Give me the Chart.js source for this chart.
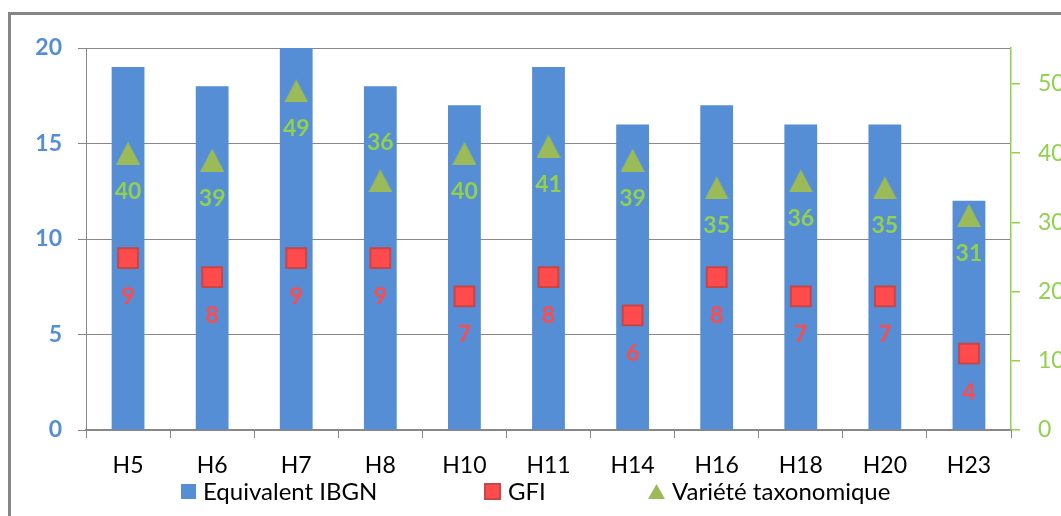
<!DOCTYPE html>
<html>
<head>
<meta charset="utf-8">
<script src="https://cdn.jsdelivr.net/npm/chart.js@4.4.1/dist/chart.umd.min.js"></script>
<style>
  html, body { margin: 0; padding: 0; background: #fff; overflow: hidden; width: 1061px; height: 516px; }
  #frame { position: absolute; left: 8px; top: 12px; width: 1200px; height: 700px;
           border-left: 3px solid #868686; border-top: 3px solid #868686; }
  #wrap { position: absolute; left: 0; top: 0; width: 1100px; height: 516px; }
  #legend { position: absolute; left: 181px; top: 479px; height: 24px; display: flex; align-items: center;
            font-family: Lato, "Open Sans", sans-serif; font-size: 24px; line-height: 24px; color: #000; white-space: nowrap; }
  #legend .item { display: flex; align-items: center; flex-shrink: 0; }
  #legend .item:nth-child(1) { width: 303px; }
  #legend .item:nth-child(2) { width: 164px; }
  #legend .mark { margin-right: 7px; display: block; flex-shrink: 0; }
</style>
</head>
<body>
<div id="frame"></div>
<div id="wrap"><canvas id="c" width="1100" height="516"></canvas></div>
<div id="legend"></div>
<script>
// Stations and measured indices
const stations = ['H5', 'H6', 'H7', 'H8', 'H10', 'H11', 'H14', 'H16', 'H18', 'H20', 'H23'];
const ibgnValues = [19, 18, 20, 18, 17, 19, 16, 17, 16, 16, 12];
const gfiValues = [9, 8, 9, 9, 7, 8, 6, 8, 7, 7, 4];
const varieteValues = [40, 39, 49, 36, 40, 41, 39, 35, 36, 35, 31];
const leftTicks = [0, 5, 10, 15, 20];
const rightTicks = [0, 10, 20, 30, 40, 50];

const BLUE = '#558ED5';
const RED = '#FF4B4B';
const RED_EDGE = '#C84646';
const OLIVE = '#9BBB59';
const GREEN = '#92D050';
const FONT = 'Lato, "Open Sans", sans-serif';

function triangleImage(w, h, color) {
  const c = document.createElement('canvas');
  c.width = w; c.height = h;
  const g = c.getContext('2d');
  g.fillStyle = color;
  g.beginPath();
  g.moveTo(w / 2, 0);
  g.lineTo(w, h);
  g.lineTo(0, h);
  g.closePath();
  g.fill();
  return c;
}
const triangleMarker = triangleImage(24, 23, OLIVE);

// Writes each point's value under (or above) its marker
const valueLabels = {
  id: 'valueLabels',
  afterDatasetsDraw(chart, args, opts) {
    const ctx = chart.ctx;
    opts.sets.forEach(s => {
      const meta = chart.getDatasetMeta(s.index);
      const values = chart.data.datasets[s.index].data;
      ctx.save();
      ctx.font = 'bold 23px ' + FONT;
      ctx.fillStyle = s.color;
      ctx.textAlign = 'center';
      ctx.textBaseline = 'middle';
      meta.data.forEach((pt, i) => {
        const dy = s.above.includes(i) ? -s.offset : s.offset;
        ctx.fillText(String(values[i]), pt.x, pt.y + dy);
      });
      ctx.restore();
    });
  }
};

const chart = new Chart(document.getElementById('c'), {
  data: {
    labels: stations,
    datasets: [
      {
        type: 'bar',
        label: 'Equivalent IBGN',
        data: ibgnValues,
        backgroundColor: BLUE,
        yAxisID: 'y',
        categoryPercentage: 1,
        barPercentage: 0.39,
        order: 3
      },
      {
        type: 'line',
        label: 'GFI',
        data: gfiValues,
        showLine: false,
        pointStyle: 'rect',
        pointRadius: 14,
        pointHoverRadius: 14,
        pointBackgroundColor: RED,
        pointBorderColor: RED_EDGE,
        pointBorderWidth: 2,
        backgroundColor: RED,
        borderColor: RED_EDGE,
        yAxisID: 'y',
        order: 1
      },
      {
        type: 'line',
        label: 'Variété taxonomique',
        data: varieteValues,
        showLine: false,
        pointStyle: triangleMarker,
        pointRadius: 12,
        backgroundColor: OLIVE,
        borderColor: OLIVE,
        yAxisID: 'y2',
        order: 2
      }
    ]
  },
  options: {
    responsive: false,
    animation: false,
    devicePixelRatio: 1,
    layout: { padding: { top: 48, left: 0, right: 0, bottom: 38 } },
    plugins: {
      legend: { display: false },
      tooltip: { enabled: false },
      valueLabels: {
        sets: [
          { index: 1, color: RED, offset: 38.5, above: [] },
          { index: 2, color: GREEN, offset: 38, above: [3] }
        ]
      }
    },
    scales: {
      x: {
        grid: { drawOnChartArea: false, color: '#888', tickLength: 8, offset: true },
        border: { color: '#888', width: 2 },
        ticks: { color: '#000', font: { family: FONT, size: 23 }, padding: 14 },
        afterFit(s) { s.height = 48; }
      },
      y: {
        position: 'left',
        min: 0, max: 20,
        afterBuildTicks(s) { s.ticks = leftTicks.map(v => ({ value: v })); },
        ticks: { color: BLUE, font: { family: FONT, size: 23, weight: 'bold' }, padding: 16 },
        grid: { color: '#888', tickLength: 8, lineWidth: 1 },
        border: { color: '#888', width: 1 },
        afterFit(s) { s.width = 86; }
      },
      y2: {
        position: 'right',
        min: 0, max: 55.2,
        afterBuildTicks(s) { s.ticks = rightTicks.map(v => ({ value: v })); },
        ticks: { color: GREEN, font: { family: FONT, size: 23 }, padding: 18 },
        grid: { drawOnChartArea: false, color: GREEN, tickLength: 9, lineWidth: 1.5 },
        border: { color: GREEN, width: 1.5 },
        afterFit(s) { s.width = 89; }
      }
    }
  },
  plugins: [valueLabels]
});

// Legend built from the chart's own legend items, in dataset order
const legendEl = document.getElementById('legend');
const items = Chart.defaults.plugins.legend.labels.generateLabels(chart)
  .sort((a, b) => a.datasetIndex - b.datasetIndex);
items.forEach(it => {
  const i = it.datasetIndex;
  const item = document.createElement('div');
  item.className = 'item';
  let mark;
  if (i === 2) {
    mark = triangleImage(17, 15, OLIVE);
  } else {
    mark = document.createElement('span');
    mark.style.width = i === 1 ? '13px' : '15px';
    mark.style.height = i === 1 ? '13px' : '15px';
    mark.style.background = i === 1 ? RED : BLUE;
    if (i === 1) mark.style.border = '2px solid ' + RED_EDGE;
  }
  mark.className = 'mark';
  const txt = document.createElement('span');
  txt.textContent = it.text;
  item.appendChild(mark);
  item.appendChild(txt);
  legendEl.appendChild(item);
});
</script>
</body>
</html>
